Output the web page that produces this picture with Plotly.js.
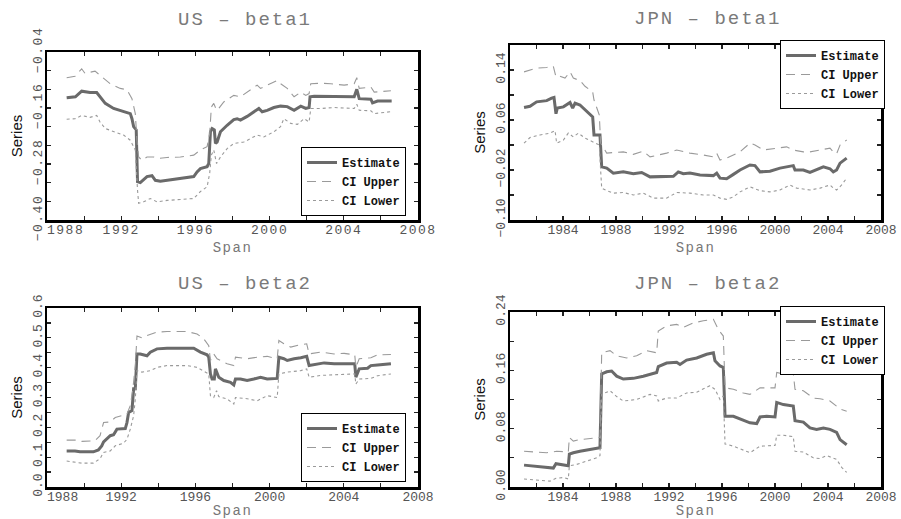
<!DOCTYPE html>
<html>
<head>
<meta charset="utf-8">
<script src="https://cdn.plot.ly/plotly-3.0.1.min.js"></script>
<style>
  html, body { margin: 0; padding: 0; background: #fff; }
  #chart { width: 901px; height: 519px; }
  #chart .xtick text, #chart .ytick text { letter-spacing: 1.5px; }
  #chart .annotation-text { letter-spacing: 2px; }
  #chart text.xtitle, #chart text.x2title, #chart text.x3title, #chart text.x4title { letter-spacing: 1.5px; }
</style>
</head>
<body>
<div id="chart"></div>
<script>
// ---------------- US - beta1 ----------------
const usB1EstX = [1989.06,1989.53,1989.87,1990.32,1990.68,1990.95,1991.14,1991.59,1992.13,1992.49,1992.58,1992.67,1992.81,1992.88,1993.03,1993.39,1993.66,1993.84,1994.11,1994.47,1995.19,1995.91,1996.09,1996.27,1996.63,1996.72,1996.81,1996.90,1997.02,1997.08,1997.17,1997.35,1997.71,1998.07,1998.25,1998.43,1998.79,1999.15,1999.42,1999.60,1999.87,2000.23,2000.59,2000.95,2001.32,2001.68,2001.95,2002.13,2002.18,2002.40,2003.48,2004.38,2004.56,2004.70,2004.83,2005.46,2005.55,2005.82,2006.58];
const usB1EstY = [-0.138,-0.136,-0.124,-0.127,-0.127,-0.140,-0.150,-0.161,-0.167,-0.172,-0.183,-0.200,-0.207,-0.318,-0.320,-0.307,-0.305,-0.315,-0.317,-0.315,-0.312,-0.307,-0.297,-0.290,-0.286,-0.279,-0.211,-0.204,-0.207,-0.236,-0.233,-0.211,-0.197,-0.185,-0.183,-0.186,-0.178,-0.168,-0.161,-0.168,-0.165,-0.159,-0.156,-0.157,-0.165,-0.156,-0.161,-0.159,-0.136,-0.135,-0.135,-0.136,-0.136,-0.120,-0.140,-0.141,-0.149,-0.145,-0.145];
const usB1UpX = [1989.06,1989.51,1989.87,1990.05,1990.59,1990.86,1991.41,1991.95,1992.31,1992.58,1992.76,1992.85,1992.94,1993.12,1993.39,1993.75,1994.02,1994.47,1995.19,1995.91,1996.27,1996.63,1996.77,1996.86,1996.99,1997.14,1997.26,1997.53,1998.07,1998.43,1998.79,1999.33,1999.51,1999.87,2000.41,2000.59,2000.95,2001.32,2001.68,2001.95,2002.13,2002.22,2002.76,2003.30,2004.02,2004.56,2004.70,2004.83,2005.46,2005.64,2006.54];
const usB1UpY = [-0.095,-0.092,-0.076,-0.086,-0.081,-0.090,-0.108,-0.118,-0.121,-0.140,-0.172,-0.229,-0.265,-0.272,-0.265,-0.265,-0.268,-0.266,-0.265,-0.261,-0.250,-0.243,-0.215,-0.158,-0.150,-0.165,-0.161,-0.147,-0.133,-0.136,-0.126,-0.111,-0.118,-0.111,-0.101,-0.108,-0.118,-0.136,-0.126,-0.133,-0.129,-0.108,-0.107,-0.108,-0.111,-0.108,-0.095,-0.118,-0.115,-0.126,-0.123];
const usB1LoX = [1989.06,1989.51,1989.87,1990.32,1990.68,1990.86,1991.14,1991.59,1992.13,1992.49,1992.76,1992.88,1992.94,1993.21,1993.57,1993.93,1994.47,1995.19,1995.91,1996.27,1996.63,1996.77,1996.86,1996.99,1997.14,1997.35,1997.71,1998.07,1998.61,1999.33,1999.69,2000.23,2000.59,2000.77,2001.14,2001.50,2001.86,2002.13,2002.22,2002.76,2003.48,2004.56,2004.70,2004.83,2005.46,2005.64,2006.54];
const usB1LoY = [-0.184,-0.183,-0.176,-0.180,-0.176,-0.190,-0.204,-0.211,-0.218,-0.229,-0.250,-0.336,-0.364,-0.361,-0.354,-0.361,-0.358,-0.356,-0.354,-0.339,-0.329,-0.300,-0.261,-0.250,-0.279,-0.265,-0.247,-0.236,-0.233,-0.218,-0.222,-0.211,-0.200,-0.183,-0.193,-0.195,-0.183,-0.190,-0.161,-0.161,-0.159,-0.161,-0.152,-0.165,-0.166,-0.172,-0.168];

// ---------------- JPN - beta1 ----------------
const jpB1EstX = [1981.06,1981.51,1982.01,1982.77,1983.14,1983.32,1983.47,1983.57,1984.03,1984.53,1984.73,1984.91,1985.28,1985.66,1986.04,1986.24,1986.34,1986.79,1986.92,1987.30,1987.80,1988.55,1989.31,1989.94,1990.57,1991.57,1992.33,1992.70,1993.08,1993.58,1994.34,1995.35,1995.60,1995.85,1996.35,1996.86,1997.36,1998.11,1998.49,1998.87,1999.62,2000.38,2000.88,2001.38,2001.51,2002.14,2002.64,2003.14,2003.65,2004.15,2004.40,2004.65,2004.91,2005.41];
const jpB1EstY = [0.080,0.082,0.089,0.091,0.095,0.096,0.070,0.079,0.081,0.088,0.079,0.087,0.084,0.076,0.068,0.065,0.036,0.036,-0.015,-0.017,-0.025,-0.023,-0.026,-0.024,-0.031,-0.030,-0.030,-0.023,-0.026,-0.025,-0.028,-0.029,-0.025,-0.033,-0.034,-0.027,-0.020,-0.012,-0.013,-0.023,-0.022,-0.017,-0.015,-0.013,-0.020,-0.020,-0.024,-0.020,-0.015,-0.018,-0.023,-0.020,-0.009,-0.001];
const jpB1UpX = [1981.06,1981.51,1982.01,1982.77,1983.27,1983.47,1983.77,1984.15,1984.53,1984.78,1985.28,1985.66,1986.24,1986.34,1986.74,1986.84,1987.04,1987.30,1987.80,1988.55,1989.31,1990.06,1990.57,1991.82,1992.58,1993.58,1994.59,1995.35,1995.60,1995.85,1996.35,1996.86,1997.36,1998.11,1998.49,1999.12,2000.38,2000.88,2001.38,2002.14,2002.64,2003.40,2004.15,2004.40,2004.65,2004.91,2005.41];
const jpB1UpY = [0.137,0.140,0.143,0.144,0.146,0.129,0.130,0.127,0.137,0.127,0.123,0.114,0.105,0.092,0.068,0.023,0.015,0.007,0.008,0.009,0.005,0.010,0.001,0.007,0.012,0.007,0.004,0.001,0.007,-0.004,-0.001,0.004,0.009,0.023,0.020,0.012,0.015,0.017,0.012,0.009,0.009,0.012,0.015,0.009,0.006,0.020,0.028];
const jpB1LoX = [1981.06,1981.51,1982.26,1983.02,1983.40,1983.52,1984.03,1984.40,1984.78,1985.16,1985.66,1986.24,1986.74,1986.84,1986.92,1987.30,1987.80,1988.55,1989.31,1990.06,1990.82,1991.82,1992.58,1993.58,1994.59,1995.35,1995.85,1996.35,1996.86,1997.36,1998.11,1998.87,1999.62,2000.38,2001.13,2001.64,2002.64,2003.40,2004.15,2004.40,2004.65,2005.03,2005.41];
const jpB1LoY = [0.023,0.032,0.036,0.039,0.043,0.023,0.028,0.039,0.033,0.039,0.031,0.025,0.020,-0.020,-0.049,-0.053,-0.057,-0.056,-0.060,-0.057,-0.065,-0.065,-0.056,-0.057,-0.060,-0.060,-0.065,-0.067,-0.063,-0.055,-0.047,-0.053,-0.055,-0.052,-0.044,-0.049,-0.052,-0.049,-0.044,-0.049,-0.052,-0.044,-0.033];

// ---------------- US - beta2 ----------------
const usB2EstX = [1989.06,1989.51,1989.78,1990.50,1990.77,1990.95,1991.05,1991.23,1991.41,1991.59,1991.68,1991.77,1992.22,1992.31,1992.40,1992.58,1992.67,1992.76,1992.85,1993.03,1993.39,1993.57,1993.93,1994.47,1995.37,1995.91,1996.27,1996.63,1996.72,1996.81,1996.90,1997.02,1997.08,1997.17,1997.26,1997.53,1997.89,1998.07,1998.16,1998.43,1998.79,1999.15,1999.51,1999.87,2000.41,2000.50,2000.77,2000.95,2001.32,2001.68,2002.00,2002.13,2002.31,2002.94,2003.48,2004.38,2004.59,2004.65,2004.74,2004.83,2005.28,2005.46,2005.82,2006.54];
const usB2EstY = [0.121,0.121,0.118,0.118,0.124,0.138,0.151,0.160,0.172,0.175,0.183,0.194,0.196,0.216,0.250,0.256,0.329,0.329,0.446,0.446,0.440,0.452,0.463,0.465,0.465,0.465,0.452,0.443,0.435,0.379,0.362,0.362,0.396,0.379,0.368,0.357,0.351,0.342,0.362,0.362,0.357,0.362,0.368,0.362,0.364,0.435,0.430,0.424,0.430,0.433,0.438,0.407,0.409,0.416,0.413,0.413,0.413,0.368,0.385,0.396,0.398,0.407,0.409,0.413];
const usB2UpX = [1989.06,1989.60,1989.87,1990.59,1990.86,1991.05,1991.41,1991.68,1992.31,1992.49,1992.63,1992.76,1992.85,1993.12,1993.39,1993.93,1994.47,1995.55,1996.09,1996.45,1996.72,1996.81,1996.99,1997.17,1997.71,1998.07,1998.16,1998.79,1999.33,1999.87,2000.41,2000.50,2000.77,2001.14,2001.59,2002.00,2002.13,2002.76,2003.48,2004.02,2004.59,2004.65,2004.83,2005.46,2005.82,2006.54];
const usB2UpY = [0.157,0.157,0.153,0.155,0.172,0.216,0.218,0.233,0.244,0.273,0.329,0.407,0.506,0.500,0.508,0.519,0.521,0.521,0.513,0.497,0.474,0.424,0.446,0.430,0.413,0.407,0.435,0.430,0.435,0.438,0.430,0.491,0.480,0.469,0.476,0.480,0.446,0.452,0.446,0.448,0.443,0.401,0.430,0.433,0.443,0.444];
const usB2LoX = [1989.06,1989.60,1989.87,1990.50,1990.86,1991.05,1991.41,1991.68,1992.13,1992.31,1992.49,1992.67,1992.76,1992.85,1993.12,1993.57,1993.93,1994.47,1995.55,1996.09,1996.45,1996.72,1996.81,1996.99,1997.14,1997.26,1997.71,1998.07,1998.16,1998.79,1999.33,1999.87,2000.41,2000.50,2000.95,2001.68,2002.00,2002.13,2002.76,2003.48,2004.59,2004.65,2004.83,2005.46,2005.82,2006.54];
const usB2LoY = [0.087,0.084,0.080,0.080,0.095,0.116,0.121,0.138,0.147,0.160,0.194,0.239,0.295,0.390,0.385,0.390,0.401,0.407,0.407,0.401,0.390,0.379,0.306,0.300,0.323,0.303,0.295,0.278,0.300,0.296,0.289,0.306,0.300,0.379,0.385,0.390,0.396,0.368,0.374,0.376,0.379,0.345,0.362,0.364,0.373,0.379];

// ---------------- JPN - beta2 ----------------
const jpB2EstX = [1981.06,1981.76,1982.52,1983.27,1983.47,1983.90,1984.40,1984.48,1984.78,1985.28,1985.79,1986.29,1986.79,1986.92,1987.30,1987.67,1988.05,1988.55,1989.31,1990.06,1990.57,1991.07,1991.19,1991.82,1992.58,1992.83,1993.33,1994.09,1994.84,1995.35,1995.47,1995.85,1996.10,1996.23,1996.86,1997.36,1998.11,1998.62,1998.87,1999.37,2000.00,2000.13,2000.63,2001.38,2001.51,2002.14,2002.64,2003.14,2003.65,2004.15,2004.65,2004.91,2005.41];
const jpB2EstY = [0.030,0.029,0.027,0.026,0.032,0.031,0.029,0.045,0.047,0.049,0.051,0.053,0.054,0.155,0.158,0.159,0.152,0.148,0.149,0.152,0.155,0.157,0.165,0.170,0.171,0.168,0.174,0.177,0.182,0.184,0.173,0.166,0.164,0.097,0.097,0.093,0.088,0.087,0.096,0.097,0.096,0.116,0.113,0.111,0.091,0.089,0.081,0.079,0.081,0.079,0.075,0.065,0.058];
const jpB2UpX = [1981.06,1982.01,1982.77,1983.52,1984.40,1984.48,1984.78,1985.28,1986.04,1986.79,1986.92,1987.55,1988.05,1988.81,1989.56,1990.31,1991.07,1991.19,1991.82,1992.58,1993.08,1993.84,1994.59,1995.35,1995.72,1996.10,1996.23,1996.86,1997.61,1998.11,1998.87,2000.00,2000.13,2000.63,2001.38,2001.51,2002.14,2002.89,2003.40,2004.15,2004.91,2005.41];
const jpB2UpY = [0.049,0.048,0.047,0.049,0.048,0.068,0.063,0.065,0.066,0.068,0.184,0.187,0.180,0.177,0.180,0.187,0.184,0.214,0.221,0.223,0.219,0.225,0.228,0.230,0.216,0.207,0.136,0.134,0.129,0.127,0.136,0.136,0.157,0.155,0.156,0.134,0.132,0.122,0.121,0.118,0.107,0.104];
const jpB2LoX = [1981.06,1982.01,1983.02,1983.47,1984.03,1984.40,1984.48,1985.03,1985.79,1986.54,1986.79,1986.92,1987.55,1988.05,1988.55,1989.56,1990.57,1991.07,1991.19,1991.82,1992.58,1993.33,1994.09,1995.09,1995.47,1995.85,1996.10,1996.23,1996.86,1997.61,1998.11,1998.87,2000.00,2000.13,2000.63,2001.38,2001.51,2002.14,2002.89,2003.40,2003.90,2004.65,2005.03,2005.41];
const jpB2LoY = [0.011,0.010,0.008,0.012,0.013,0.011,0.029,0.031,0.036,0.040,0.043,0.127,0.132,0.124,0.118,0.120,0.127,0.125,0.118,0.122,0.122,0.129,0.130,0.139,0.134,0.120,0.125,0.059,0.056,0.051,0.047,0.056,0.057,0.071,0.071,0.069,0.049,0.048,0.040,0.039,0.043,0.038,0.027,0.020];

// ---------------- labels ----------------
const panelTitles = ['US \u2013 beta1', 'JPN \u2013 beta1', 'US \u2013 beta2', 'JPN \u2013 beta2'];
const seriesNames = ['Estimate', 'CI Upper', 'CI Lower'];
const usXTickVals = [1988, 1992, 1996, 2000, 2004, 2008];
const usXTickText = ['\u00a0\u00a0\u00a0\u00a01988', '1992', '1996', '2000', '2004', '2008'];
const jpXTickVals = [1984, 1988, 1992, 1996, 2000, 2004, 2008];
const jpXTickText = ['1984', '1988', '1992', '1996', '2000', '2004', '2008'];
const xTitle = 'Span';
const yTitle = 'Series';

// ---------------- styling ----------------
const MONO = 'Liberation Mono, Courier New, monospace';
const SANS = 'Liberation Sans Narrow, Liberation Sans, Arial, sans-serif';
const estLine = {color: '#6a6a6a', width: 3, dash: 'solid'};
const upLine = {color: '#9a9a9a', width: 1.1, dash: '9px,6px'};
const loLine = {color: '#9a9a9a', width: 1.1, dash: '3px,3px'};

const panels = [
  {est: [usB1EstX, usB1EstY], up: [usB1UpX, usB1UpY], lo: [usB1LoX, usB1LoY]},
  {est: [jpB1EstX, jpB1EstY], up: [jpB1UpX, jpB1UpY], lo: [jpB1LoX, jpB1LoY]},
  {est: [usB2EstX, usB2EstY], up: [usB2UpX, usB2UpY], lo: [usB2LoX, usB2LoY]},
  {est: [jpB2EstX, jpB2EstY], up: [jpB2UpX, jpB2UpY], lo: [jpB2LoX, jpB2LoY]}
];

const traces = [];
panels.forEach((p, i) => {
  const suf = i === 0 ? '' : String(i + 1);
  const leg = 'legend' + suf;
  [[p.est, estLine, seriesNames[0]], [p.up, upLine, seriesNames[1]], [p.lo, loLine, seriesNames[2]]].forEach(([d, ln, nm]) => {
    traces.push({
      type: 'scatter', mode: 'lines', x: d[0], y: d[1], name: nm,
      line: ln, xaxis: 'x' + suf, yaxis: 'y' + suf, legend: leg, showlegend: true,
      hoverinfo: 'skip'
    });
  });
});

const W = 901, H = 519;
function px2x(a, b) { return [a / W, b / W]; }
function px2y(top, bot) { return [1 - bot / H, 1 - top / H]; }

function xAxis(domain, anchor, range, tv, tt, tick0) {
  return {
    domain: domain, anchor: anchor, range: range,
    tickmode: 'array', tickvals: tv, ticktext: tt,
    ticks: 'inside', ticklen: 4, tickwidth: 1.2, tickcolor: '#222',
    minor: {ticks: 'inside', ticklen: 4, tickwidth: 1.2, tickcolor: '#222', dtick: 2, tick0: tick0, tickmode: 'linear'},
    showline: true, linecolor: '#000', linewidth: 2.5, mirror: 'ticks',
    showgrid: false, zeroline: false, ticklabelstandoff: -4,
    tickfont: {family: MONO, size: 13, color: '#555'},
    title: {text: xTitle, font: {family: MONO, size: 14, color: '#777'}, standoff: 5},
    automargin: false, fixedrange: true
  };
}
function yAxis(domain, anchor, range, tick0, dtick, minor, fmt) {
  return {
    domain: domain, anchor: anchor, range: range,
    tickmode: 'linear', tick0: tick0, dtick: dtick, tickformat: fmt,
    ticks: 'inside', ticklen: 4, tickwidth: 1.2, tickcolor: '#222',
    minor: {ticks: 'inside', ticklen: 4, tickwidth: 1.2, tickcolor: '#222', dtick: minor, tick0: tick0},
    showline: true, linecolor: '#000', linewidth: 2.5, mirror: 'ticks',
    showgrid: false, zeroline: false, tickangle: -90, ticklabelstandoff: -3,
    tickfont: {family: MONO, size: 13, color: '#555'},
    title: {text: yTitle, font: {family: SANS, size: 15, color: '#111'}, standoff: 5},
    automargin: false, fixedrange: true
  };
}

const xL = px2x(47, 418), xR = px2x(510, 881);
const legendBase = {
  bgcolor: '#fff', bordercolor: '#000', borderwidth: 1,
  font: {family: MONO, size: 12, color: '#111', weight: 'bold'},
  xref: 'paper', yref: 'paper', xanchor: 'right', yanchor: 'bottom',
  itemwidth: 30, tracegroupgap: 0, itemclick: false, itemdoubleclick: false
};

const layout = {
  width: W, height: H,
  margin: {l: 0, r: 0, t: 0, b: 0},
  paper_bgcolor: '#fff', plot_bgcolor: '#fff',
  showlegend: true,
  xaxis: xAxis(xL, 'y', [1988, 2008], usXTickVals, usXTickText, 1988),
  yaxis: yAxis(px2y(52, 220), 'x', [-0.40, -0.04], -0.40, 0.12, 0.04, '.2f'),
  xaxis2: xAxis(xR, 'y2', [1980, 2008], jpXTickVals, jpXTickText, 1980),
  yaxis2: yAxis(px2y(45, 220), 'x2', [-0.10, 0.18], -0.10, 0.08, 0.04, '.2f'),
  xaxis3: xAxis(xL, 'y3', [1988, 2008], usXTickVals, usXTickText, 1988),
  yaxis3: yAxis(px2y(308, 487), 'x3', [0, 0.6], 0, 0.1, 0.05, '.1f'),
  xaxis4: xAxis(xR, 'y4', [1980, 2008], jpXTickVals, jpXTickText, 1980),
  yaxis4: yAxis(px2y(312, 487), 'x4', [0, 0.24], 0, 0.08, 0.04, '.2f'),
  legend: Object.assign({}, legendBase, {x: 406 / W, y: 1 - 216 / H}),
  legend2: Object.assign({}, legendBase, {x: 885 / W, y: 1 - 109 / H}),
  legend3: Object.assign({}, legendBase, {x: 406 / W, y: 1 - 482 / H}),
  legend4: Object.assign({}, legendBase, {x: 885 / W, y: 1 - 375 / H}),
  annotations: [
    {text: panelTitles[0], x: 245 / W, y: 1 - 20 / H},
    {text: panelTitles[1], x: 707 / W, y: 1 - 19 / H},
    {text: panelTitles[2], x: 245 / W, y: 1 - 284 / H},
    {text: panelTitles[3], x: 707 / W, y: 1 - 284 / H}
  ].map(a => Object.assign(a, {xref: 'paper', yref: 'paper', showarrow: false, xanchor: 'center', yanchor: 'middle',
    font: {family: MONO, size: 19, color: '#7a7a7a'}}))
};

Plotly.newPlot('chart', traces, layout, {staticPlot: true, displayModeBar: false});
</script>
</body>
</html>
